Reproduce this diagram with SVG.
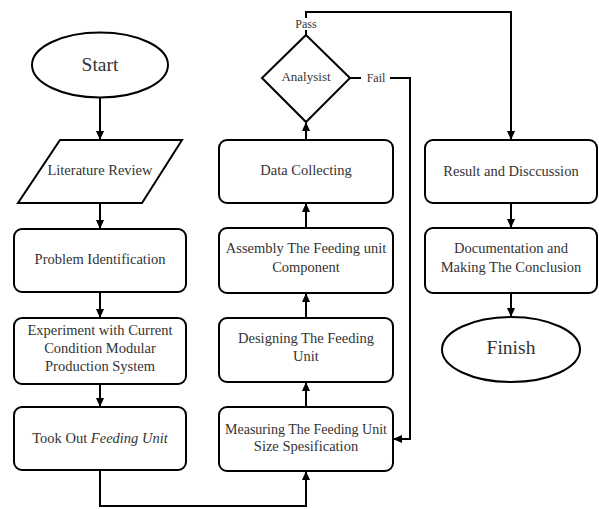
<svg xmlns="http://www.w3.org/2000/svg" width="599" height="509" viewBox="0 0 599 509" font-family="Liberation Serif, DejaVu Serif, serif">
<defs>
<marker id="ah" markerUnits="userSpaceOnUse" markerWidth="9" markerHeight="8" refX="8" refY="4" orient="auto">
<path d="M0,0 L9,4 L0,8 z" fill="#000"/>
</marker>
<style>
.s{fill:#fff;stroke:#000;stroke-width:2}
.t{font-family:"Liberation Serif",serif;font-size:14.5px;fill:#333;text-anchor:middle}
.big{font-size:19.5px}
.sm{font-size:12px}
.c{fill:none;stroke:#000;stroke-width:2}
</style>
</defs>
<rect width="599" height="509" fill="#fff"/>
<g id="connectors">
<path class="c" d="M100 98 V139" marker-end="url(#ah)"/>
<path class="c" d="M100 203 V228" marker-end="url(#ah)"/>
<path class="c" d="M100 292 V317" marker-end="url(#ah)"/>
<path class="c" d="M100 384 V406" marker-end="url(#ah)"/>
<path class="c" d="M100 470 V506 H306 V472" marker-end="url(#ah)"/>
<path class="c" d="M306 407 V383" marker-end="url(#ah)"/>
<path class="c" d="M306 318 V294" marker-end="url(#ah)"/>
<path class="c" d="M306 228 V204" marker-end="url(#ah)"/>
<path class="c" d="M306 140 V123" marker-end="url(#ah)"/>
<path class="c" d="M306 35 V30 M306 18 V12 H511 V139" marker-end="url(#ah)"/>
<path class="c" d="M350 78 H361 M390 78 H410 V439 H394" marker-end="url(#ah)"/>
<path class="c" d="M511 203 V227" marker-end="url(#ah)"/>
<path class="c" d="M511 293 V316" marker-end="url(#ah)"/>
<text class="t sm" x="306" y="28">Pass</text>
<text class="t sm" x="376" y="82">Fail</text>
</g>
<g id="start"><ellipse class="s" cx="100" cy="65" rx="68" ry="32.5"/><text class="t big" x="100" y="71">Start</text></g>
<g id="literature"><path class="s" d="M60 140 H182 L142 203 H18 Z"/><text class="t" x="100" y="175">Literature Review</text></g>
<g id="problem"><rect class="s" x="14" y="229" width="172" height="63" rx="8"/><text class="t" x="100" y="264">Problem Identification</text></g>
<g id="experiment"><rect class="s" x="14" y="318" width="172" height="66" rx="8"/><text class="t" x="100" y="335">Experiment with Current</text><text class="t" x="100" y="353">Condition Modular</text><text class="t" x="100" y="371">Production System</text></g>
<g id="tookout"><rect class="s" x="14" y="407" width="172" height="63" rx="8"/><text class="t" x="100" y="443">Took Out <tspan font-style="italic">Feeding Unit</tspan></text></g>
<g id="measuring"><rect class="s" x="219" y="407" width="174" height="64" rx="8"/><text class="t" x="306" y="434" style="font-size:14px">Measuring The Feeding Unit</text><text class="t" x="306" y="451">Size Spesification</text></g>
<g id="designing"><rect class="s" x="219" y="318" width="174" height="64" rx="8"/><text class="t" x="306" y="343">Designing The Feeding</text><text class="t" x="306" y="361">Unit</text></g>
<g id="assembly"><rect class="s" x="219" y="228" width="174" height="65" rx="8"/><text class="t" x="306" y="253">Assembly The Feeding unit</text><text class="t" x="306" y="272">Component</text></g>
<g id="data"><rect class="s" x="219" y="140" width="174" height="63" rx="8"/><text class="t" x="306" y="175">Data Collecting</text></g>
<g id="analysist"><path class="s" d="M306 35 L350 78 L306 122 L262 78 Z"/><text class="t" x="306" y="81" style="font-size:13px">Analysist</text></g>
<g id="result"><rect class="s" x="425" y="140" width="172" height="63" rx="8"/><text class="t" x="511" y="176">Result and Disccussion</text></g>
<g id="documentation"><rect class="s" x="425" y="228" width="172" height="65" rx="8"/><text class="t" x="511" y="253">Documentation and</text><text class="t" x="511" y="272">Making The Conclusion</text></g>
<g id="finish"><ellipse class="s" cx="511" cy="349.5" rx="69" ry="32.5"/><text class="t big" x="511" y="354">Finish</text></g>
</svg>
